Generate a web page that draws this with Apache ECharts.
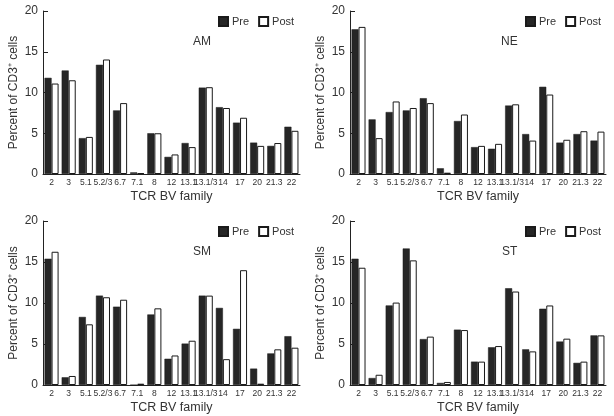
<!DOCTYPE html>
<html>
<head>
<meta charset="utf-8">
<script src="https://cdn.jsdelivr.net/npm/echarts@6/dist/echarts.min.js"></script>
<style>
html,body{margin:0;padding:0;background:#fff;}
#chart{width:614px;height:416px;}
</style>
</head>
<body>
<div id="chart"></div>
<script>
const categories = ['2','3','5.1','5.2/3','6.7','7.1','8','12','13.1','13.1/3','14','17','20','21.3','22'];
const yTicks = [0, 5, 10, 15, 20];
const panelNames = ['AM', 'NE', 'SM', 'ST'];
const amPre  = [11.8, 12.7, 4.4, 13.4, 7.8, 0.2, 5.0, 2.1, 3.8, 10.6, 8.2, 6.3, 3.85, 3.45, 5.8];
const amPost = [11.1, 11.5, 4.55, 14.05, 8.7, 0.1, 5.0, 2.4, 3.3, 10.65, 8.1, 6.9, 3.45, 3.8, 5.3];
const nePre  = [17.75, 6.7, 7.6, 7.8, 9.3, 0.7, 6.5, 3.3, 3.1, 8.4, 4.9, 10.7, 3.85, 4.9, 4.1];
const nePost = [18.05, 4.4, 8.9, 8.1, 8.7, 0.16, 7.3, 3.45, 3.7, 8.55, 4.1, 9.75, 4.2, 5.25, 5.2];
const smPre  = [15.4, 0.94, 8.3, 10.9, 9.55, 0, 8.6, 3.2, 5.05, 10.9, 9.4, 6.85, 2.0, 3.85, 5.95];
const smPost = [16.25, 1.1, 7.4, 10.7, 10.4, 0.16, 9.35, 3.6, 5.4, 10.9, 3.15, 14.0, 0.16, 4.35, 4.55];
const stPre  = [15.4, 0.85, 9.7, 16.65, 5.6, 0.25, 6.75, 2.85, 4.6, 11.8, 4.35, 9.3, 5.3, 2.7, 6.05];
const stPost = [14.3, 1.25, 10.05, 15.2, 5.9, 0.37, 6.7, 2.85, 4.75, 11.4, 4.1, 9.7, 5.65, 2.85, 6.05];

const preData = [amPre, nePre, smPre, stPre];
const postData = [amPost, nePost, smPost, stPost];

const FONT = '"Liberation Sans", Arial, Helvetica, sans-serif';
const TXT = '#333';
const grids = [
  {left: 43, top: 11, width: 257, height: 163},
  {left: 350, top: 11, width: 256, height: 163},
  {left: 43, top: 221, width: 257, height: 164},
  {left: 350, top: 221, width: 256, height: 164}
];
const legendPos = [{left: 218, top: 16}, {left: 525, top: 16}, {left: 218, top: 226}, {left: 525, top: 226}];
const titlePos = [{left: 193, top: 36}, {left: 501, top: 36}, {left: 193, top: 246}, {left: 502, top: 246}];

const option = {
  animation: false,
  backgroundColor: '#fff',
  textStyle: {fontFamily: FONT},
  grid: grids.map(g => Object.assign({containLabel: false}, g)),
  title: panelNames.map((n, i) => ({
    text: n, left: titlePos[i].left, top: titlePos[i].top, padding: 0,
    textStyle: {fontFamily: FONT, fontSize: 12, fontWeight: 'normal', color: TXT}
  })),
  legend: legendPos.map(p => ({
    data: ['Pre', 'Post'], left: p.left, top: p.top, padding: 0,
    itemWidth: 9, itemHeight: 9, itemGap: 9, icon: 'rect',
    textStyle: {fontFamily: FONT, fontSize: 11, color: TXT, padding: [0, 0, 0, -1]}
  })),
  xAxis: grids.map((g, i) => ({
    type: 'category', gridIndex: i, data: categories,
    name: 'TCR BV family', nameLocation: 'middle', nameGap: 16,
    nameTextStyle: {fontFamily: FONT, fontSize: 12.5, color: TXT},
    axisLine: {show: true, lineStyle: {color: '#222', width: 1}},
    axisTick: {show: false},
    axisLabel: {interval: 0, fontSize: 8.5, color: TXT, margin: 4, fontFamily: FONT}
  })),
  yAxis: grids.map((g, i) => ({
    type: 'value', gridIndex: i, min: yTicks[0], max: yTicks[yTicks.length - 1], interval: 5,
    name: 'Percent of CD3\u207A cells', nameLocation: 'middle', nameGap: 23,
    nameTextStyle: {fontFamily: FONT, fontSize: 12, color: TXT},
    axisLine: {show: true, lineStyle: {color: '#222', width: 1}},
    axisTick: {show: true, inside: true, length: 5, lineStyle: {color: '#222'}},
    splitLine: {show: false},
    axisLabel: {fontSize: 12, color: TXT, margin: 5, fontFamily: FONT}
  })),
  series: []
};

for (let i = 0; i < 4; i++) {
  option.series.push({
    name: 'Pre', type: 'bar', xAxisIndex: i, yAxisIndex: i, data: preData[i],
    barGap: '0%', barCategoryGap: '18%',
    itemStyle: {color: '#262626', borderColor: '#1a1a1a', borderWidth: 0.5}
  });
  option.series.push({
    name: 'Post', type: 'bar', xAxisIndex: i, yAxisIndex: i, data: postData[i],
    barGap: '0%', barCategoryGap: '18%',
    itemStyle: {color: '#ffffff', borderColor: '#1a1a1a', borderWidth: 1}
  });
}

const chart = echarts.init(document.getElementById('chart'), null, {renderer: 'canvas'});
chart.setOption(option);
</script>
</body>
</html>
